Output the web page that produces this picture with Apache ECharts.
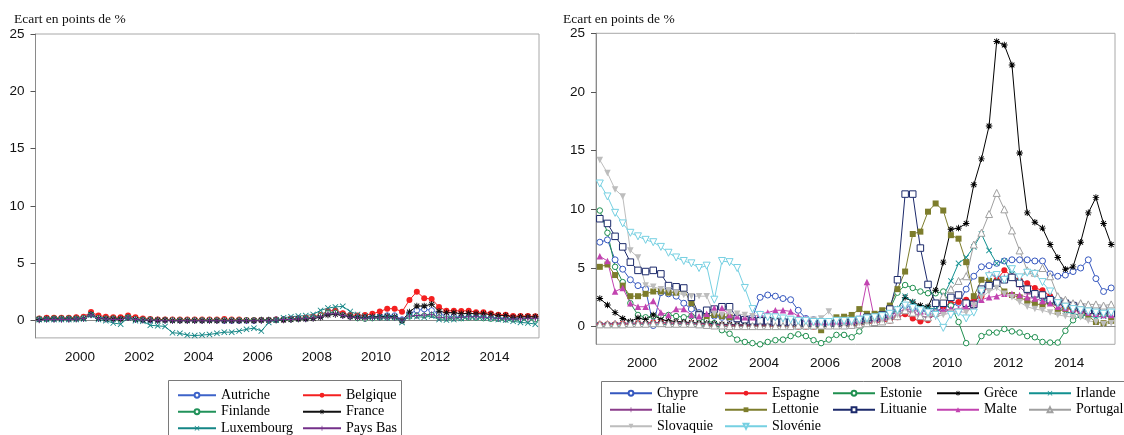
<!DOCTYPE html>
<html>
<head>
<meta charset="utf-8">
<title>Ecarts de taux</title>
<script src="https://cdn.jsdelivr.net/npm/echarts@6/dist/echarts.min.js"></script>
<style>
  html, body { margin: 0; padding: 0; background: #fff; }
  #chart { width: 1124px; height: 435px; }
</style>
</head>
<body>
<div id="chart"></div>
<script>
// trimestres 1999T1 - 2015T4
const years = [1999, 2000, 2001, 2002, 2003, 2004, 2005, 2006, 2007, 2008, 2009, 2010, 2011, 2012, 2013, 2014, 2015]
const quarters = []
years.forEach(y => { for (let q = 1; q <= 4; q++) quarters.push(y + 'Q' + q) })
const yTicks = [0, 5, 10, 15, 20, 25]

// panneau gauche
const autriche = [0.15,0.2,0.2,0.2, 0.2,0.25,0.3,0.55, 0.3,0.25,0.2,0.2, 0.3,0.15,0.1,0.05, 0.05,0.05,0.05,0.05, 0.05,0.05,0.05,0.05, 0.05,0.0,0.0,0.0, 0.0,0.0,0.05,0.05, 0.1,0.1,0.15,0.2, 0.2,0.3,0.4,0.7, 0.8,0.6,0.4,0.35, 0.3,0.35,0.35,0.45, 0.45,0.1,0.6,0.9, 1.0,0.9,0.6,0.4, 0.35,0.3,0.35,0.3, 0.3,0.25,0.25,0.2, 0.2,0.2,0.25,0.2]
const belgique = [0.2,0.25,0.25,0.25, 0.25,0.3,0.35,0.75, 0.45,0.35,0.3,0.3, 0.45,0.3,0.2,0.15, 0.1,0.1,0.1,0.1, 0.1,0.1,0.1,0.1, 0.1,0.15,0.1,0.1, 0.05,0.05,0.05,0.05, 0.1,0.1,0.15,0.2, 0.25,0.35,0.5,0.85, 0.9,0.65,0.5,0.45, 0.5,0.6,0.8,1.05, 1.05,0.78,1.8,2.53, 1.95,1.9,1.2,0.87, 0.87,0.85,0.87,0.73, 0.73,0.63,0.52,0.52, 0.4,0.42,0.4,0.38]
const finlande = [0.15,0.15,0.2,0.2, 0.2,0.2,0.25,0.55, 0.25,0.2,0.2,0.15, 0.3,0.15,0.1,0.1, 0.05,0.05,0.05,0.05, 0.05,0.05,0.05,0.05, 0.05,0.05,0.05,0.05, 0.05,0.05,0.05,0.05, 0.05,0.1,0.1,0.15, 0.2,0.3,0.45,0.7, 0.7,0.5,0.35,0.2, 0.15,0.2,0.25,0.25, 0.25,0.0,0.35,0.45, 0.45,0.5,0.3,0.2, 0.2,0.2,0.25,0.25, 0.2,0.15,0.15,0.1, 0.1,0.1,0.1,0.1]
const france = [0.1,0.15,0.15,0.15, 0.15,0.15,0.2,0.55, 0.2,0.15,0.15,0.15, 0.25,0.1,0.05,0.05, 0.05,0.05,0.0,0.0, 0.0,0.0,0.0,0.0, 0.0,0.0,0.0,0.0, 0.0,0.0,0.05,0.05, 0.05,0.05,0.1,0.15, 0.15,0.2,0.3,0.5, 0.55,0.45,0.35,0.3, 0.3,0.35,0.35,0.4, 0.35,0.0,0.75,1.28, 1.28,1.43,0.82,0.7, 0.7,0.6,0.65,0.6, 0.6,0.55,0.45,0.45, 0.3,0.35,0.35,0.35]
const luxembourg = [0.1,0.1,0.1,0.1, 0.1,0.1,0.15,0.5, 0.1,0.0,-0.2,-0.3, 0.25,0.0,-0.05,-0.4, -0.45,-0.5,-1.05,-1.1, -1.25,-1.3,-1.25,-1.2, -1.1,-1.0,-1.0,-0.9, -0.75,-0.65,-0.9,-0.15, 0.05,0.25,0.35,0.4, 0.45,0.55,0.9,1.1, 1.2,1.25,0.8,0.55, 0.4,0.3,0.3,0.25, 0.3,-0.15,0.4,0.35, 0.3,0.4,0.1,0.05, 0.1,0.2,0.3,0.3, 0.25,0.2,0.1,0.05, -0.05,-0.15,-0.2,-0.3]
const paysBas = [0.05,0.1,0.1,0.1, 0.1,0.15,0.2,0.5, 0.2,0.15,0.1,0.1, 0.25,0.1,0.05,0.05, 0.0,0.0,0.0,0.0, 0.0,0.0,0.0,0.0, 0.0,0.0,0.0,0.0, 0.0,0.0,0.0,0.0, 0.05,0.1,0.1,0.15, 0.2,0.25,0.35,0.6, 0.6,0.45,0.3,0.25, 0.2,0.25,0.25,0.25, 0.25,0.05,0.4,0.45, 0.5,0.55,0.3,0.25, 0.25,0.3,0.35,0.35, 0.3,0.25,0.2,0.15, 0.15,0.15,0.2,0.2]

// panneau droit
const chypre = [7.2,7.4,5.7,4.9, 4.0,3.5,3.2,0.1, 2.9,2.8,2.6,2.0, 1.5,1.2,1.0,0.9, 0.8,0.7,0.6,0.5, 0.8,2.5,2.7,2.6, 2.4,2.3,1.4,0.7, 0.6,0.5,0.4,0.3, 0.3,0.3,0.4,0.5, 0.5,0.7,0.9,1.3, 1.8,1.6,1.4,1.3, 1.3,1.6,1.8,2.0, 3.2,4.3,5.1,5.2, 5.4,5.6,5.7,5.7, 5.7,5.6,5.6,4.5, 4.3,4.4,4.7,5.0, 5.7,4.1,3.0,3.3]
const espagne = [0.2,0.2,0.2,0.25, 0.25,0.3,0.3,0.35, 0.35,0.3,0.3,0.3, 0.3,0.25,0.2,0.15, 0.1,0.1,0.1,0.1, 0.1,0.1,0.05,0.05, 0.05,0.0,0.0,0.0, 0.0,0.05,0.05,0.05, 0.1,0.1,0.15,0.25, 0.35,0.4,0.5,0.8, 1.05,0.7,0.45,0.55, 1.1,1.7,2.0,2.1, 2.3,2.2,2.6,3.7, 4.0,4.8,4.3,4.0, 3.7,3.3,3.1,2.6, 2.0,1.6,1.4,1.3, 1.2,1.1,1.3,1.2]
const estonie = [9.9,8.0,5.1,3.8, 2.0,1.0,0.8,0.9, 0.9,1.0,0.9,0.8, 0.9,0.7,0.5,0.3, -0.3,-0.6,-1.1,-1.3, -1.4,-1.5,-1.3,-1.15, -1.1,-0.8,-0.65,-0.8, -1.15,-1.4,-1.1,-0.7, -0.7,-0.9,-0.4,0.3, 0.8,1.2,1.5,2.9, 3.55,3.3,3.0,2.85, 2.85,3.0,1.8,0.4, -1.4,-2.0,-0.8,-0.5, -0.5,-0.2,-0.4,-0.5, -0.8,-0.9,-1.3,-1.35, -1.35,-0.35,0.55,0.95, 1.15,1.1,1.0,1.0]
const grece = [2.4,1.85,1.2,0.7, 0.45,0.75,0.6,1.0, 0.6,0.5,0.45,0.4, 0.35,0.3,0.3,0.25, 0.2,0.2,0.15,0.15, 0.15,0.15,0.15,0.15, 0.15,0.15,0.2,0.2, 0.2,0.25,0.25,0.25, 0.25,0.3,0.3,0.35, 0.5,0.6,0.8,1.5, 2.5,2.1,1.8,1.7, 3.1,5.5,8.3,8.4, 8.8,12.1,14.3,17.1, 24.3,24.0,22.3,14.8, 9.7,8.9,8.4,7.0, 5.9,4.9,5.1,7.2, 9.7,11.0,8.8,7.0]
const irlande = [0.15,0.15,0.15,0.15, 0.2,0.2,0.2,0.25, 0.2,0.2,0.2,0.2, 0.2,0.15,0.1,0.1, 0.05,0.05,0.05,0.05, 0.05,0.05,0.05,0.05, 0.0,0.0,0.0,0.0, 0.0,0.0,0.05,0.05, 0.1,0.1,0.15,0.3, 0.5,0.6,0.9,1.5, 2.6,2.1,1.6,1.6, 1.5,2.6,3.9,5.4, 5.9,6.8,7.9,6.5, 5.4,5.6,4.5,3.8, 3.2,2.8,2.4,2.1, 1.7,1.3,1.1,1.0, 0.9,0.8,0.9,0.9]
const italie = [0.25,0.25,0.3,0.3, 0.3,0.3,0.3,0.35, 0.35,0.3,0.3,0.3, 0.3,0.25,0.25,0.2, 0.15,0.15,0.15,0.15, 0.15,0.15,0.15,0.15, 0.15,0.15,0.15,0.2, 0.25,0.25,0.2,0.2, 0.2,0.2,0.3,0.35, 0.4,0.5,0.6,0.9, 1.4,1.2,0.9,0.8, 0.9,1.3,1.4,1.5, 1.5,1.6,2.8,4.5, 4.3,4.2,4.3,3.4, 2.8,2.8,2.5,2.3, 2.0,1.7,1.5,1.3, 1.2,1.1,1.3,1.1]
const lettonie = [5.1,5.3,4.4,3.5, 2.6,2.6,2.8,3.0, 3.0,2.9,2.9,3.1, 2.0,1.1,0.9,1.0, 0.9,0.8,0.7,0.6, 0.5,0.6,0.6,0.5, 0.4,0.4,0.3,0.3, 0.2,-0.3,0.3,0.8, 0.85,1.0,1.5,1.1, 1.1,1.4,1.8,3.2, 4.7,7.9,8.1,9.8, 10.5,9.9,7.8,7.5, 5.5,2.6,4.0,3.9, 3.8,3.0,2.7,2.5, 2.2,2.0,1.8,2.1, 1.3,1.5,1.6,1.4, 0.9,0.4,0.3,0.5]
const lituanie = [9.2,8.8,7.7,6.8, 5.5,4.8,4.7,4.8, 4.5,3.5,3.4,3.3, 2.5,1.0,1.4,1.5, 1.7,1.7,0.7,0.6, 0.5,0.5,0.5,0.4, 0.4,0.4,0.4,0.3, 0.3,0.3,0.3,0.3, 0.4,0.5,0.6,0.8, 0.8,1.0,1.5,4.0, 11.3,11.3,6.7,3.6, 2.0,2.0,2.5,2.7, 2.0,1.9,3.2,3.5, 3.7,4.0,4.2,3.7, 3.2,2.8,2.7,2.3, 2.2,2.0,1.8,1.6, 1.4,1.4,1.4,1.1]
const malte = [6.0,5.6,3.0,3.3, 2.0,1.7,1.7,2.2, 1.2,1.0,1.5,1.5, 1.0,0.9,1.1,1.6, 1.6,1.0,0.9,0.8, 0.8,1.1,1.2,1.4, 1.4,1.3,0.9,0.7, 0.4,0.4,0.4,0.4, 0.5,0.5,0.6,3.8, 0.6,0.8,1.0,1.2, 1.5,1.4,1.3,1.3, 1.3,1.4,1.5,1.5, 1.7,2.0,2.3,2.5, 2.6,2.8,2.8,2.7, 2.5,2.4,2.2,2.0, 1.7,1.6,1.5,1.4, 1.2,1.1,1.0,1.0]
const portugal = [0.2,0.2,0.2,0.2, 0.25,0.25,0.25,0.3, 0.3,0.25,0.25,0.25, 0.25,0.2,0.15,0.1, 0.1,0.05,0.05,0.05, 0.05,0.05,0.05,0.05, 0.05,0.05,0.1,0.1, 0.1,0.1,0.1,0.1, 0.1,0.15,0.2,0.3, 0.4,0.45,0.6,0.9, 1.4,1.2,0.9,0.8, 1.2,2.6,3.2,3.9, 4.3,7.0,8.0,9.6, 11.4,10.0,8.2,6.5, 4.8,4.6,5.0,4.3, 2.6,2.3,2.0,2.0, 1.9,1.9,1.8,1.9]
const slovaquie = [14.2,13.1,11.7,11.1, 6.5,5.9,3.5,3.4, 3.2,3.1,2.9,2.7, 2.6,2.6,2.6,1.1, 1.0,1.2,1.1,1.0, 0.9,1.0,0.8,0.7, 0.6,0.6,0.5,0.5, 0.6,0.7,1.3,0.5, 0.3,0.3,0.3,0.4, 0.5,0.6,0.8,1.0, 1.6,1.4,1.2,1.0, 0.9,1.0,1.2,1.3, 1.2,1.8,2.5,3.0, 3.3,2.8,2.5,2.1, 1.7,1.5,1.4,1.2, 1.0,0.9,0.8,0.8, 0.5,0.4,0.2,0.3]
const slovenie = [12.2,11.1,9.7,8.8, 8.0,7.7,7.4,7.2, 6.8,6.3,5.9,5.6, 5.4,5.0,5.2,2.3, 5.6,5.5,5.0,3.3, 1.5,1.0,0.8,0.8, 0.7,0.6,0.5,0.5, 0.4,0.4,0.4,0.5, 0.5,0.5,0.6,0.7, 0.8,0.9,1.1,1.4, 1.8,1.6,1.4,1.2, 1.0,-0.1,1.0,1.2, 0.7,1.2,3.0,4.3, 4.4,4.0,4.9,4.2, 4.6,4.5,3.8,3.0, 2.0,1.7,1.5,1.4, 1.3,1.2,1.1,1.2]

// symboles (les symboles "vides" sont des symboles pleins à fond blanc)
const PLUS = 'path://M4.3,0H5.7V4.3H10V5.7H5.7V10H4.3V5.7H0V4.3H4.3Z'
const CROSS = 'path://M0,1L1,0L5,4L9,0L10,1L6,5L10,9L9,10L5,6L1,10L0,9L4,5Z'
const STAR = 'path://M4.3,0H5.7V4.3H10V5.7H5.7V10H4.3V5.7H0V4.3H4.3Z M0.8,1.8L1.8,0.8L5,4L8.2,0.8L9.2,1.8L6,5L9.2,8.2L8.2,9.2L5,6L1.8,9.2L0.8,8.2L4,5Z'

const chart = echarts.init(document.getElementById('chart'))

function serie(name, data, color, symbol, size, panel, rotate) {
  const empty = symbol.indexOf('empty') === 0
  const shape = empty ? symbol.slice(5).toLowerCase() : symbol
  return {
    name: name,
    type: 'line',
    data: data,
    xAxisIndex: panel * 2,
    yAxisIndex: panel,
    symbol: shape,
    symbolSize: size,
    symbolRotate: rotate || 0,
    showAllSymbol: true,
    lineStyle: { color: color, width: 1 },
    itemStyle: empty
      ? { color: '#fff', borderColor: color, borderWidth: 1 }
      : { color: color, borderWidth: 0 },
    emphasis: { disabled: true },
    animation: false
  }
}

function xAxes(grid) {
  return [
    {
      type: 'category',
      gridIndex: grid,
      data: quarters,
      boundaryGap: true,
      position: 'bottom',
      axisLine: { lineStyle: { color: '#8a8a8a', width: 1 } },
      axisTick: { interval: 0, length: 4, lineStyle: { color: '#555' } },
      axisLabel: {
        interval: (i) => i % 8 === 6,
        formatter: (v) => v.slice(0, 4),
        margin: 12,
        padding: [0, 7.4, 0, 0],
        fontFamily: 'Liberation Sans',
        fontSize: 13.5,
        color: '#111'
      }
    },
    {
      type: 'category',
      gridIndex: grid,
      data: quarters,
      boundaryGap: true,
      position: 'bottom',
      axisLine: { show: false },
      axisTick: { interval: (i) => i % 4 === 0, length: 7, lineStyle: { color: '#555' } },
      axisLabel: { show: false }
    }
  ]
}

function yAxis(grid) {
  return {
    type: 'value',
    gridIndex: grid,
    min: -1.5,
    max: 25,
    axisLine: { show: true, lineStyle: { color: '#8a8a8a' } },
    axisTick: { show: true, length: 5, customValues: yTicks, lineStyle: { color: '#555' } },
    axisLabel: {
      customValues: yTicks,
      margin: 11,
      fontFamily: 'Liberation Sans',
      fontSize: 13.5,
      color: '#111'
    },
    splitLine: { show: false }
  }
}

function legendCol(left, top, width, names) {
  return {
    orient: 'vertical',
    left: left,
    top: top,
    height: 80,
    padding: 0,
    itemGap: 0,
    itemWidth: width,
    itemHeight: 6,
    selectedMode: false,
    data: names,
    textStyle: { fontFamily: 'Liberation Serif', fontSize: 14, color: '#000', lineHeight: 16.5 }
  }
}

const axisTitle = 'Ecart en points de %'

const option = {
  backgroundColor: '#fff',
  animation: false,
  grid: [
    { left: 35.5, top: 34, width: 503.5, height: 303.9, show: true, borderColor: '#a8a8a8', borderWidth: 1 },
    { left: 596, top: 33.3, width: 519, height: 311, show: true, borderColor: '#a8a8a8', borderWidth: 1 }
  ],
  xAxis: xAxes(0).concat(xAxes(1)),
  yAxis: [yAxis(0), yAxis(1)],
  legend: [
    legendCol(177, 387, 38, ['Autriche', 'Finlande', 'Luxembourg']),
    legendCol(302, 387, 38, ['Belgique', 'France', 'Pays Bas']),
    legendCol(609, 385, 42, ['Chypre', 'Italie', 'Slovaquie']),
    legendCol(724, 385, 42, ['Espagne', 'Lettonie', 'Slovénie']),
    legendCol(832, 385, 42, ['Estonie', 'Lituanie']),
    legendCol(936, 385, 42, ['Grèce', 'Malte']),
    legendCol(1028, 385, 42, ['Irlande', 'Portugal'])
  ],
  graphic: [
    { type: 'text', left: 14, top: 12, style: { text: axisTitle, font: '13.5px "Liberation Serif"', fill: '#111' } },
    { type: 'text', left: 563, top: 12, style: { text: axisTitle, font: '13.5px "Liberation Serif"', fill: '#111' } },
    { type: 'rect', shape: { x: 168.5, y: 380.5, width: 233, height: 70 }, style: { fill: 'none', stroke: '#7a7a7a', lineWidth: 1 }, silent: true },
    { type: 'rect', shape: { x: 601.5, y: 381.5, width: 540, height: 70 }, style: { fill: 'none', stroke: '#7a7a7a', lineWidth: 1 }, silent: true }
  ],
  series: [
    serie('Autriche', autriche, '#3d63c9', 'emptyCircle', 5.5, 0),
    serie('Belgique', belgique, '#f42020', 'circle', 6, 0),
    serie('Finlande', finlande, '#21925a', 'emptyCircle', 5, 0),
    serie('France', france, '#111111', STAR, 6.5, 0),
    serie('Luxembourg', luxembourg, '#148686', CROSS, 6, 0),
    serie('Pays Bas', paysBas, '#74308a', PLUS, 6.5, 0),

    serie('Chypre', chypre, '#3557bf', 'emptyCircle', 6, 1),
    serie('Espagne', espagne, '#ee1c24', 'circle', 6, 1),
    serie('Estonie', estonie, '#1f8f4f', 'emptyCircle', 5.5, 1),
    serie('Grèce', grece, '#000000', STAR, 6.5, 1),
    serie('Irlande', irlande, '#119090', CROSS, 6, 1),
    serie('Italie', italie, '#8b3d8b', PLUS, 6.5, 1),
    serie('Lettonie', lettonie, '#7d7d2c', 'rect', 6, 1),
    serie('Lituanie', lituanie, '#1c2a6b', 'emptyRect', 6.5, 1),
    serie('Malte', malte, '#c243b0', 'triangle', 6.5, 1),
    serie('Portugal', portugal, '#a0a0a0', 'emptyTriangle', 7, 1),
    serie('Slovaquie', slovaquie, '#bdbdbd', 'triangle', 6.5, 1, 180),
    serie('Slovénie', slovenie, '#76d0e2', 'emptyTriangle', 7, 1, 180)
  ]
}

chart.setOption(option)
</script>
</body>
</html>
